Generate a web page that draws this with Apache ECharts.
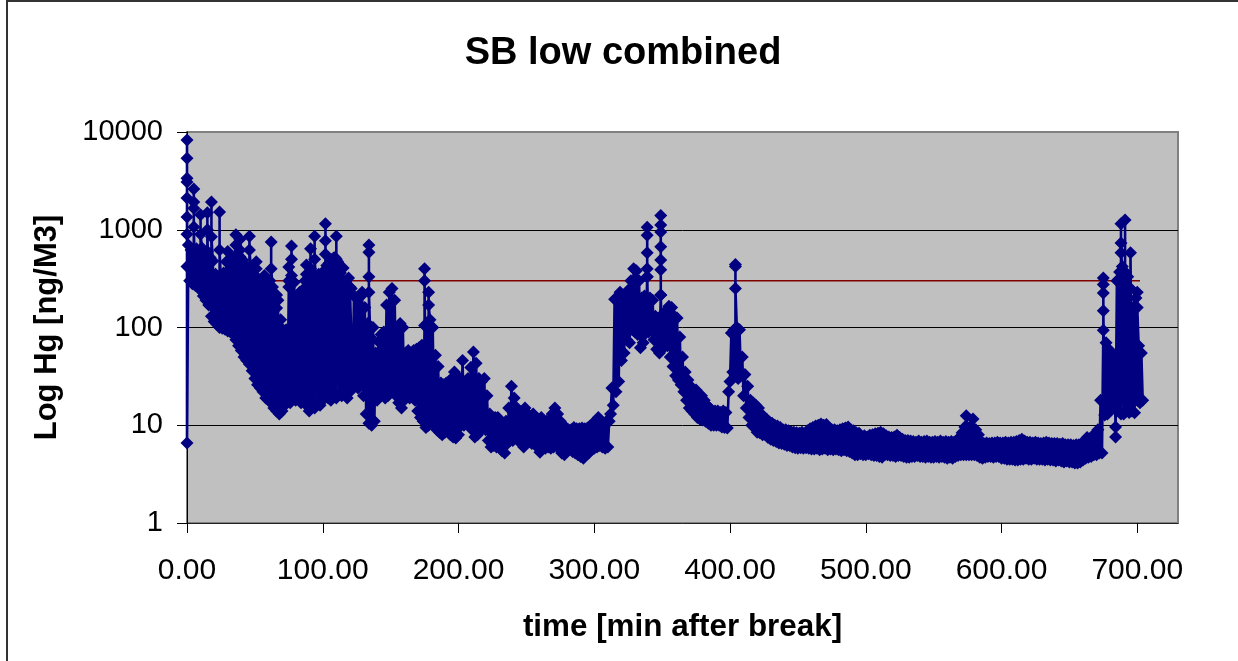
<!DOCTYPE html>
<html><head><meta charset="utf-8">
<style>html,body{margin:0;padding:0;background:#fff}#c{width:1238px;height:661px}</style>
<script src="https://cdn.jsdelivr.net/npm/echarts@6/dist/echarts.min.js"></script>
</head><body><div id="c"></div>
<script>
const titleText = 'SB low combined';
const xName = 'time [min after break]';
const yName = 'Log Hg [ng/M3]';
const xTicks = [0,100,200,300,400,500,600,700];
const limitTimes = [0,702];
const limitValues = [300,300];
// Hg reading per minute after break (alternating trough and crest of the noisy trace)
const hgPerMinute = [
420,700,300,620,280,520,270,640,260,560,
240,650,210,560,190,600,170,520,130,480,
115,350,108,330,100,300,98,360,96,470,
92,450,90,520,88,480,75,560,65,530,
58,490,50,430,46,380,42,420,36,350,
30,400,26,310,24,300,22,340,19,270,
18,300,17,260,15,220,14,190,13,120,
14,85,16,95,18,260,17,340,20,290,
18,210,19,230,17,240,18,300,16,260,
14,280,16,320,15,300,17,350,16,330,
18,380,20,430,19,460,18,500,20,520,
19,470,21,360,20,300,22,290,19,320,
22,250,25,210,28,200,24,210,26,230,
20,160,13,110,10.5,80,10,100,11,55,
18,72,20,85,22,90,19,170,20,230,
22,250,25,190,20,95,17,110,15,100,
18,55,20,58,19,55,20,58,18,60,
14,62,12,66,11,105,9.5,110,10,120,
11,100,10.5,52,9,40,8.5,27,8,26,
8.5,27,8.8,28,8,30,7.6,35,7.4,28,
8,30,10,46,10,28,11,30,10,39,
9,56,7.6,43,8,30,9,28,10,30,
9,20,7,13,6,12,6.2,12,6,12,
6.5,11,5.5,10,5.2,11,6.5,15,7,25,
7,19,8,15,7.5,14,6.5,13,6,15,
6.5,13,7,12,6.5,13,6.5,12,6,11.5,
5.3,12,5.8,11,5.8,11,6,11,5.8,13,
6,15,6.2,13,5.8,11,5.2,10,5,9.5,
5.5,9,5.8,9,5.4,9.5,5.2,9.2,5,9.2,
4.8,9.4,4.6,9.2,5,9.4,5.2,9.8,5.6,10.5,
5.8,11,6,12,6.2,11,6,10.5,5.8,11,
6,11,13,24,16,195,22,200,28,230,
46,210,55,190,75,240,70,300,95,400,
90,380,85,300,62,200,70,210,88,330,
90,200,95,190,75,130,60,120,55,215,
60,140,70,130,65,165,50,160,40,130,
32,125,29,80,26,50,22,35,18,29,
15,25,14,22,13,23,12,21,11.5,20,
11.3,18,11,16,10.5,15,10,14,10,14,
10,14,10,13.5,9.6,14,9.5,13.5,9.4,22,
28,88,35,95,32,100,30,95,32,50,
20,33,15,25,12,18,10,17,9.6,16,
8.5,15,8.4,13,8,12,8,11.5,7.5,10.8,
7.2,10.5,7,10,6.8,9.8,6.6,9.5,6.5,9,
6.4,9,6.2,8.8,6.2,8.6,6,8.5,5.9,8.4,
5.8,8.3,5.9,8.5,5.8,8.2,5.9,8.8,5.8,9.2,
5.7,9.5,5.7,9.8,5.8,10,5.6,10.3,5.7,10,
5.8,10.2,5.6,9.2,5.7,9,5.6,9,5.7,8.8,
5.6,9,5.5,9.2,5.6,9.4,5.5,9.6,5.4,9,
5.2,8.8,5,8.4,5,8.3,5.1,7.6,5,7.8,
5,7.6,5.1,7.9,5,8,4.9,8.2,4.9,8.3,
4.8,8.5,4.7,8.2,5,7.8,5,7.6,4.9,7.5,
4.9,7.6,4.8,7.9,4.9,7.5,4.9,7.2,4.8,7,
4.7,7,4.7,6.9,4.8,6.8,4.8,6.7,4.9,6.9,
4.8,6.7,4.8,6.8,4.7,6.9,4.8,6.7,4.7,6.7,
4.7,6.8,4.8,6.7,4.7,6.9,4.8,6.7,4.7,6.8,
4.6,6.7,4.7,6.8,4.6,6.7,4.8,7,4.9,7.5,
5,8.4,5,9.6,5,9.5,5,9.6,5,9.4,
5,9,4.9,8,4.7,6.8,4.6,6.5,4.7,6.6,
4.8,6.5,4.8,6.6,4.7,6.6,4.8,6.7,4.8,6.6,
4.6,6.6,4.6,6.7,4.5,6.6,4.5,6.7,4.5,6.7,
4.4,6.8,4.4,7,4.5,7.2,4.5,6.9,4.6,6.7,
4.5,6.7,4.5,6.6,4.6,6.7,4.5,6.6,4.5,6.5,
4.5,6.6,4.4,6.7,4.5,6.6,4.4,6.5,4.4,6.5,
4.3,6.5,4.4,6.4,4.3,6.5,4.2,6.3,4.3,6.3,
4.2,6.3,4.2,6.2,4.1,6.3,4.1,6.3,4.2,6.5,
4.4,6.9,4.6,7.5,4.7,7.2,4.8,7.5,5,8.3,
5,9,5.2,18,5.2,94,12.7,70,13,60,
14,55,16,50,9.6,300,14,370,13,420,
13,300,14,330,13.5,250,14,160,13.4,200,
18,65,17,55,18
];
// Isolated peaks standing above the trace
const spikeTimes = [0,0,0,0,0,0,0,0, 5,5,5,5, 10,10, 15,15, 18,18, 24,24, 30, 36,36, 39,39, 46,46, 51, 62,62, 66,66, 69, 75,75, 77,77, 88,88, 91,91, 94,94, 102,102,102, 108, 110,110, 115, 120, 129, 134,134,134,134, 175,175, 178,178, 339,339,339,339,339, 349,349,349,349,349,349,349, 404,404,404, 574, 579, 675,675,675,675, 684, 688,688,688, 691,691,691, 695, 700,700];
const spikeValues = [8300,5400,3370,3080,2110,1350,900,6.6, 2610,1920,1660,1070, 1420,900, 1490,1000, 1920,850, 1520,620, 600, 890,700, 800,620, 860,620, 470, 750,400, 215,158, 100, 415,300, 680,500, 436,350, 640,400, 860,500, 1150,770,560, 515, 860,500, 405, 260, 215, 700,590,330,230, 400,300, 230,170, 1060,880,580,400,330, 1400,1120,950,670,490,390,215, 440,420,250, 12.5, 11.6, 320,275,225,148, 7.6, 1150,730,580, 1260,370,225, 580, 230,160];

const traceData = [];
hgPerMinute.forEach((v, minute) => {
  traceData.push([minute, v]);
  spikeTimes.forEach((t, i) => { if (t === minute) traceData.push([t, spikeValues[i]]); });
});
const navy = '#000080';
const font = '"Liberation Sans", Arial, sans-serif';
const chart = echarts.init(document.getElementById('c'), null, {renderer:'canvas'});
chart.setOption({
  animation:false,
  backgroundColor:'#fff',
  title:{text:titleText,left:618,top:30,textAlign:'center',
    textStyle:{fontFamily:font,fontWeight:'bold',fontSize:38,color:'#000'}},
  grid:{left:187,top:132,width:991,height:391,show:true,backgroundColor:'#c0c0c0',borderColor:'#808080',borderWidth:2},
  xAxis:{type:'value',min:0,max:730,interval:100,
    name:xName,nameLocation:'middle',nameGap:89,
    nameTextStyle:{fontFamily:font,fontWeight:'bold',fontSize:31.4,color:'#000'},
    axisLine:{show:true,onZero:false,lineStyle:{color:'#222',width:1}},
    axisTick:{show:true,length:10,customValues:xTicks,lineStyle:{color:'#000',width:1}},
    axisLabel:{customValues:xTicks,margin:33,fontFamily:font,fontSize:30,color:'#000',formatter:v=>v.toFixed(2)},
    splitLine:{show:false}},
  yAxis:{type:'log',logBase:10,min:1,max:10000,
    name:yName,nameLocation:'middle',nameGap:124,
    nameTextStyle:{fontFamily:font,fontWeight:'bold',fontSize:31,color:'#000'},
    axisLine:{show:true,onZero:false,lineStyle:{color:'#000',width:1}},
    axisTick:{show:true,length:10,lineStyle:{color:'#000',width:1}},
    axisLabel:{margin:24,fontFamily:font,fontSize:29,color:'#000',formatter:v=>String(v)},
    splitLine:{show:true,showMinLine:false,showMaxLine:false,lineStyle:{color:'#000',width:1}},
    minorTick:{show:false}},
  series:[
    {type:'line',z:2,data:limitTimes.map((t,i)=>[t,limitValues[i]]),showSymbol:false,
     lineStyle:{color:'#800000',width:1.5}},
    {type:'line',z:3,data:traceData,symbol:'diamond',symbolSize:13,showSymbol:true,showAllSymbol:true,
     clip:false,itemStyle:{color:navy},lineStyle:{color:navy,width:2.6}}
  ],
  graphic:[
    {type:'rect',shape:{x:6,y:0,width:2,height:661},style:{fill:'#333'},silent:true},
    {type:'rect',shape:{x:6,y:0,width:1232,height:2},style:{fill:'#333'},silent:true}
  ]
});
</script></body></html>
